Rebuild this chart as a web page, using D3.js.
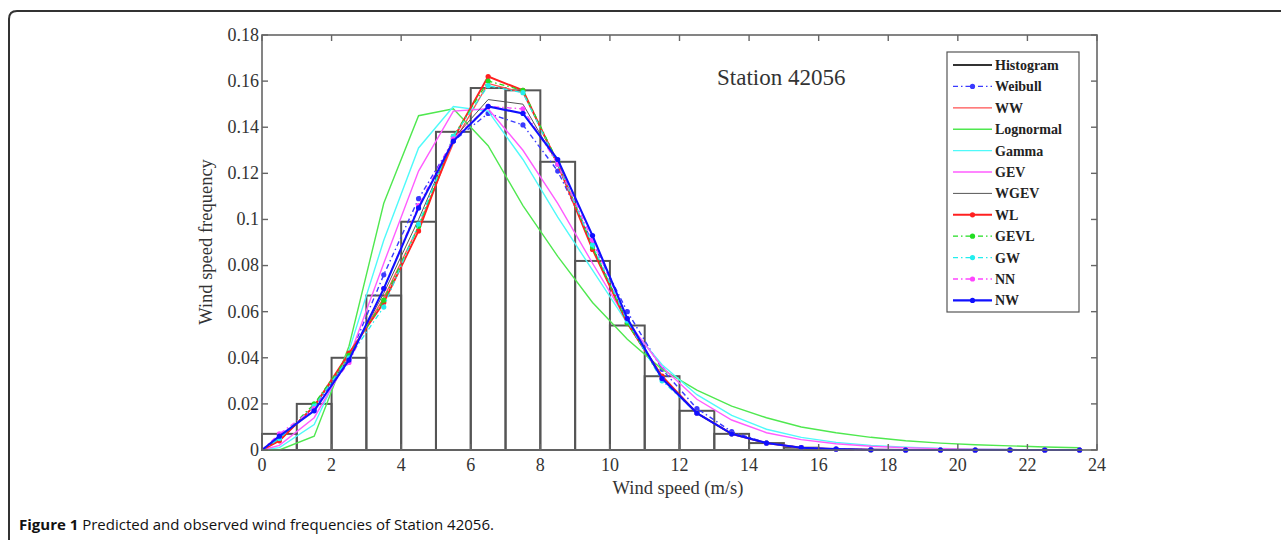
<!DOCTYPE html>
<html lang="en">
<head>
<meta charset="UTF-8">
<title>Predicted and observed wind frequencies of Station 42056</title>
<script src="https://d3js.org/d3.v7.min.js"></script>
<style>
    body { margin: 0; background: #fff; }
    svg { display: block; }
    .tick-label { font-family: "Liberation Serif", serif; font-size: 18px; fill: #333; }
    .axis-title { font-family: "Liberation Serif", serif; font-size: 18.5px; fill: #333; }
    .legend-text { font-family: "Liberation Serif", serif; font-size: 14px; fill: #222; font-weight: bold; }
    .station { font-family: "Liberation Serif", serif; font-size: 23px; fill: #333; }
    .caption { font-family: "Open Sans", sans-serif; font-size: 15px; fill: #111; }
</style>
</head>
<body>
<svg id="chart" width="1281" height="540"></svg>
<script>
// bin-centre wind speeds where the fitted curves are evaluated
var windSpeed = [0, 0.5, 1.5, 2.5, 3.5, 4.5, 5.5, 6.5, 7.5, 8.5, 9.5, 10.5, 11.5, 12.5,
                 13.5, 14.5, 15.5, 16.5, 17.5, 18.5, 19.5, 20.5, 21.5, 22.5, 23.5];

// histogram bins (left edge, width 1 m/s)
var binStart = [0, 1, 2, 3, 4, 5, 6, 7, 8, 9, 10, 11, 12, 13, 14, 15, 16, 17, 18, 19, 20, 21, 22, 23];
var histFreq = [0.007, 0.020, 0.040, 0.067, 0.099, 0.138, 0.157, 0.156, 0.125, 0.082, 0.054, 0.032,
                0.017, 0.007, 0.003, 0.001, 0.0003, 0, 0, 0, 0, 0, 0, 0];

var weibull   = [0, 0.005, 0.018, 0.040, 0.076, 0.109, 0.134, 0.146, 0.141, 0.121, 0.090, 0.060, 0.035,
                 0.018, 0.008, 0.003, 0.001, 0.0004, 0.0001, 0, 0, 0, 0, 0, 0];
var ww        = [0, 0.004, 0.019, 0.041, 0.066, 0.097, 0.133, 0.159, 0.155, 0.125, 0.088, 0.055, 0.031,
                 0.016, 0.007, 0.003, 0.001, 0.0004, 0.0001, 0, 0, 0, 0, 0, 0];
var lognormal = [0, 0, 0.006, 0.045, 0.107, 0.145, 0.148, 0.132, 0.106, 0.084, 0.064, 0.048, 0.035,
                 0.026, 0.019, 0.014, 0.010, 0.0075, 0.0055, 0.004, 0.003, 0.0023, 0.0018, 0.0013, 0.001];
var gamma     = [0, 0.001, 0.011, 0.043, 0.091, 0.131, 0.149, 0.147, 0.126, 0.101, 0.078, 0.055, 0.037,
                 0.024, 0.015, 0.009, 0.0055, 0.0033, 0.002, 0.0012, 0.0007, 0.0004, 0.0002, 0.0001, 0.0001];
var gev       = [0, 0.002, 0.014, 0.040, 0.081, 0.121, 0.147, 0.148, 0.130, 0.107, 0.081, 0.056, 0.036,
                 0.022, 0.013, 0.0075, 0.0045, 0.0027, 0.0016, 0.001, 0.0006, 0.0004, 0.0002, 0.0001, 0.0001];
var wgev      = [0, 0.005, 0.019, 0.040, 0.068, 0.100, 0.135, 0.152, 0.150, 0.124, 0.088, 0.056, 0.032,
                 0.016, 0.007, 0.003, 0.001, 0.0004, 0.0001, 0, 0, 0, 0, 0, 0];
var wl        = [0, 0.004, 0.019, 0.042, 0.064, 0.095, 0.135, 0.162, 0.156, 0.124, 0.087, 0.055, 0.032,
                 0.016, 0.007, 0.003, 0.001, 0.0004, 0.0001, 0, 0, 0, 0, 0, 0];
var gevl      = [0, 0.005, 0.020, 0.041, 0.065, 0.097, 0.136, 0.160, 0.156, 0.125, 0.088, 0.055, 0.031,
                 0.016, 0.007, 0.003, 0.001, 0.0004, 0.0001, 0, 0, 0, 0, 0, 0];
var gw        = [0, 0.005, 0.019, 0.040, 0.062, 0.098, 0.136, 0.158, 0.155, 0.124, 0.089, 0.056, 0.030,
                 0.016, 0.007, 0.003, 0.001, 0.0004, 0.0001, 0, 0, 0, 0, 0, 0];
var nn        = [0, 0.007, 0.018, 0.038, 0.070, 0.106, 0.135, 0.149, 0.148, 0.124, 0.091, 0.057, 0.031,
                 0.016, 0.007, 0.003, 0.001, 0.0004, 0.0001, 0, 0, 0, 0, 0, 0];
var nw        = [0, 0.006, 0.017, 0.039, 0.070, 0.105, 0.134, 0.149, 0.146, 0.126, 0.093, 0.057, 0.031,
                 0.016, 0.007, 0.003, 0.001, 0.0004, 0.0001, 0, 0, 0, 0, 0, 0];

var xTicks = [0, 2, 4, 6, 8, 10, 12, 14, 16, 18, 20, 22, 24];
var yTicks = [0, 0.02, 0.04, 0.06, 0.08, 0.1, 0.12, 0.14, 0.16, 0.18];

// style per model, in legend / drawing order
var series = [
    {name: "Weibull",   values: weibull,   color: "#3a3aff", width: 1.4, dash: "5,3,1.5,3", marker: true},
    {name: "WW",        values: ww,        color: "#ff5050", width: 1.3, dash: null,        marker: false},
    {name: "Lognormal", values: lognormal, color: "#4fe84f", width: 1.4, dash: null,        marker: false},
    {name: "Gamma",     values: gamma,     color: "#4ffafa", width: 1.4, dash: null,        marker: false},
    {name: "GEV",       values: gev,       color: "#ff5cff", width: 1.4, dash: null,        marker: false},
    {name: "WGEV",      values: wgev,      color: "#555555", width: 1.0, dash: null,        marker: false},
    {name: "WL",        values: wl,        color: "#ff2020", width: 1.9, dash: null,        marker: true},
    {name: "GEVL",      values: gevl,      color: "#22dd22", width: 1.3, dash: "5,3,1.5,3", marker: true},
    {name: "GW",        values: gw,        color: "#22eeee", width: 1.3, dash: "5,3,1.5,3", marker: true},
    {name: "NN",        values: nn,        color: "#ff44ff", width: 1.3, dash: "5,3,1.5,3", marker: true},
    {name: "NW",        values: nw,        color: "#1010ff", width: 2.1, dash: null,        marker: true}
];

var svg = d3.select("#chart");

// figure frame (rounded top-left corner, continuing off the page)
svg.append("path")
    .attr("d", "M9,540 L9,19 Q9,11 17,11 L1281,11")
    .attr("fill", "none")
    .attr("stroke", "#333")
    .attr("stroke-width", 2);

var x = d3.scaleLinear().domain([0, 24]).range([262, 1097]);
var y = d3.scaleLinear().domain([0, 0.18]).range([450, 35]);

var plot = svg.append("g");

// histogram
plot.selectAll(".bar")
    .data(binStart)
  .enter().append("rect")
    .attr("class", "bar")
    .attr("x", function(d) { return x(d); })
    .attr("y", function(d, i) { return y(histFreq[i]); })
    .attr("width", function(d) { return x(d + 1) - x(d); })
    .attr("height", function(d, i) { return y(0) - y(histFreq[i]); })
    .attr("fill", "none")
    .attr("stroke", "#555")
    .attr("stroke-width", 2)
    .attr("display", function(d, i) { return histFreq[i] > 0 ? null : "none"; });

var line = d3.line()
    .x(function(d, i) { return x(windSpeed[i]); })
    .y(function(d) { return y(d); });

series.forEach(function(s) {
    var g = plot.append("g");
    g.append("path")
        .attr("d", line(s.values))
        .attr("fill", "none")
        .attr("stroke", s.color)
        .attr("stroke-width", s.width)
        .attr("stroke-dasharray", s.dash);
    if (s.marker) {
        g.selectAll("circle")
            .data(s.values.slice(1))
          .enter().append("circle")
            .attr("cx", function(d, i) { return x(windSpeed[i + 1]); })
            .attr("cy", function(d) { return y(d); })
            .attr("r", 2.6)
            .attr("fill", s.color);
    }
});

// axes box with inward ticks (MATLAB style)
var axisColor = "#666";
var box = svg.append("g");
box.append("rect")
    .attr("x", x(0)).attr("y", y(0.18))
    .attr("width", x(24) - x(0)).attr("height", y(0) - y(0.18))
    .attr("fill", "none").attr("stroke", axisColor).attr("stroke-width", 1.6);

var tl = 6;
box.selectAll(".xt-bottom").data(xTicks).enter().append("line")
    .attr("x1", function(d) { return x(d); }).attr("x2", function(d) { return x(d); })
    .attr("y1", y(0)).attr("y2", y(0) - tl)
    .attr("stroke", axisColor).attr("stroke-width", 1.4);
box.selectAll(".xt-top").data(xTicks).enter().append("line")
    .attr("x1", function(d) { return x(d); }).attr("x2", function(d) { return x(d); })
    .attr("y1", y(0.18)).attr("y2", y(0.18) + tl)
    .attr("stroke", axisColor).attr("stroke-width", 1.4);
box.selectAll(".yt-left").data(yTicks).enter().append("line")
    .attr("x1", x(0)).attr("x2", x(0) + tl)
    .attr("y1", function(d) { return y(d); }).attr("y2", function(d) { return y(d); })
    .attr("stroke", axisColor).attr("stroke-width", 1.4);
box.selectAll(".yt-right").data(yTicks).enter().append("line")
    .attr("x1", x(24)).attr("x2", x(24) - tl)
    .attr("y1", function(d) { return y(d); }).attr("y2", function(d) { return y(d); })
    .attr("stroke", axisColor).attr("stroke-width", 1.4);

box.selectAll(".xl").data(xTicks).enter().append("text")
    .attr("class", "tick-label")
    .attr("x", function(d) { return x(d); })
    .attr("y", 471)
    .attr("text-anchor", "middle")
    .text(function(d) { return d; });

box.selectAll(".yl").data(yTicks).enter().append("text")
    .attr("class", "tick-label")
    .attr("x", 259)
    .attr("y", function(d) { return y(d); })
    .attr("dy", "0.33em")
    .attr("text-anchor", "end")
    .text(function(d) { return String(+d.toFixed(2)); });

svg.append("text")
    .attr("class", "axis-title")
    .attr("x", 678).attr("y", 494)
    .attr("text-anchor", "middle")
    .text("Wind speed (m/s)");

svg.append("text")
    .attr("class", "axis-title")
    .attr("font-size", "19px")
    .attr("transform", "translate(212,242) rotate(-90)")
    .attr("text-anchor", "middle")
    .text("Wind speed frequency");

svg.append("text")
    .attr("class", "station")
    .attr("x", 717).attr("y", 85)
    .text("Station 42056");

// legend
var legend = svg.append("g");
legend.append("rect")
    .attr("x", 947).attr("y", 52).attr("width", 132).attr("height", 260)
    .attr("fill", "#fff").attr("stroke", "#555").attr("stroke-width", 1.2);

var legendItems = [{name: "Histogram", color: "#333", width: 2, dash: null, marker: false}].concat(series);
var row = legend.selectAll(".item")
    .data(legendItems)
  .enter().append("g")
    .attr("transform", function(d, i) { return "translate(0," + (65 + i * 21.4) + ")"; });

row.append("line")
    .attr("x1", 953).attr("x2", 992).attr("y1", 0).attr("y2", 0)
    .attr("stroke", function(d) { return d.color; })
    .attr("stroke-width", function(d) { return d.width; })
    .attr("stroke-dasharray", function(d) { return d.dash; });
row.filter(function(d) { return d.marker; }).append("circle")
    .attr("cx", 972.5).attr("cy", 0).attr("r", 2.6)
    .attr("fill", function(d) { return d.color; });
row.append("text")
    .attr("class", "legend-text")
    .attr("x", 995).attr("y", 0).attr("dy", "0.35em")
    .text(function(d) { return d.name; });

// caption
var cap = svg.append("text")
    .attr("class", "caption")
    .attr("x", 19).attr("y", 530);
cap.append("tspan").attr("font-weight", "bold").text("Figure 1");
cap.append("tspan").text(" Predicted and observed wind frequencies of Station 42056.");
</script>
</body>
</html>
